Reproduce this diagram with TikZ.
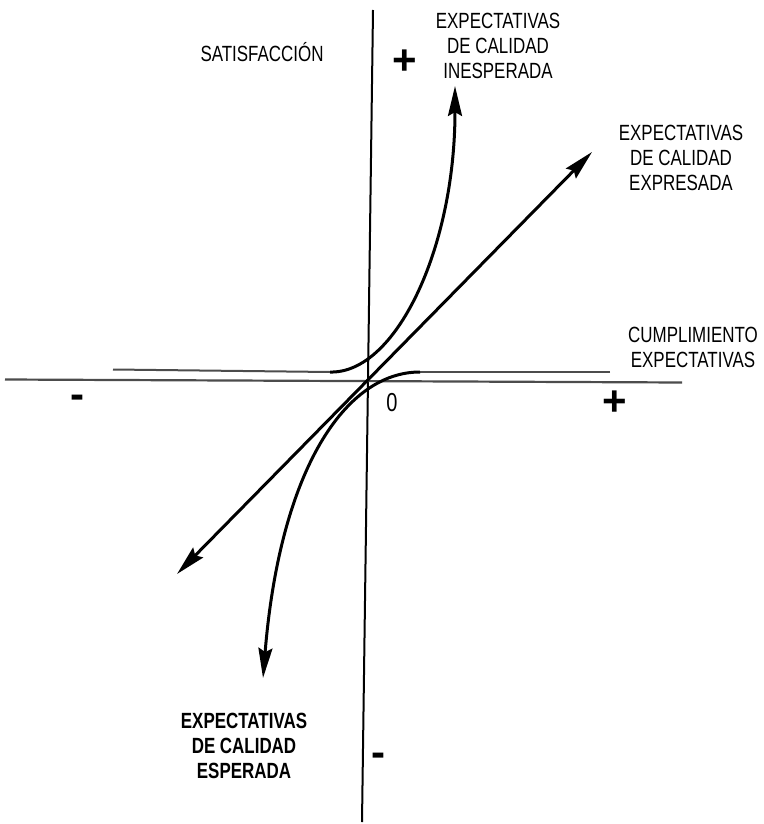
\documentclass[tikz,border=0pt]{standalone}
\usepackage{fontspec}
\newfontfamily\labfont[FakeStretch=0.77]{Liberation Sans}
\newfontfamily\signfont{Liberation Sans}
\usetikzlibrary{arrows.meta}
\begin{document}
\begin{tikzpicture}[x=1pt,y=-1pt,
  >={Stealth[length=30pt,width=14pt,inset=4pt]},
  lab/.style={font=\labfont\fontsize{22}{25}\selectfont, align=center, inner sep=0pt},
  labbold/.style={font=\labfont\bfseries\fontsize{22}{25}\selectfont, align=center, inner sep=0pt},
  sign/.style={font=\signfont\bfseries\fontsize{42}{42}\selectfont, inner sep=0pt},
  vaxis/.style={line width=2pt, black},
  haxis/.style={line width=2.2pt, black!70},
  curve/.style={line width=3pt, black},
  flat/.style={line width=2pt, black!70},
]
\useasboundingbox (0,0) rectangle (763,824);
% coordinates
\coordinate (vtop) at (373,10);
\coordinate (vbot) at (362,822);
\coordinate (hl) at (5,379.5);
\coordinate (hr) at (682,382.5);
\coordinate (dl) at (177,574);
\coordinate (dr) at (592,152);
\coordinate (ustart) at (113,369.5);
\coordinate (ubend) at (330,372);
\coordinate (utip) at (455,86);
\coordinate (lstart) at (610,372);
\coordinate (lbend) at (420,372);
\coordinate (ltip) at (263,678);
% axes
\draw[vaxis] (vtop) -- (vbot);
\draw[haxis] (hl) -- (hr);
% diagonal
\draw[curve, <->] (dl) -- (dr);
% upper curve
\draw[flat] (ustart) -- (ubend);
\draw[curve, ->] (ubend) .. controls (395,374) and (455,250) .. (utip);
% lower curve
\draw[flat] (lstart) -- (lbend);
\draw[curve, ->] (lbend) .. controls (345,372) and (280,470) .. (ltip);
% labels
\node[lab, anchor=base] (satis) at (262,62) {SATISFACCIÓN};
\node[lab, anchor=north] (ines) at (498,13) {EXPECTATIVAS\\DE CALIDAD\\INESPERADA};
\node[lab, anchor=north] (expr) at (681,125) {EXPECTATIVAS\\DE CALIDAD\\EXPRESADA};
\node[lab, anchor=north] (cump) at (693,327) {CUMPLIMIENTO\\EXPECTATIVAS};
\node[labbold, anchor=north] (esp) at (244,713) {EXPECTATIVAS\\DE CALIDAD\\ESPERADA};
\node[lab, font=\labfont\fontsize{26}{26}\selectfont] (zero) at (392,403) {0};
\node[sign] (plusy) at (405,62) {+};
\node[sign] (plusx) at (615,403) {+};
\node[sign] (minusx) at (77,402) {-};
\node[sign] (minusy) at (378,760) {-};
\end{tikzpicture}
\end{document}
